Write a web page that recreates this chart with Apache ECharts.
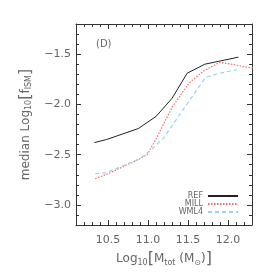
<!DOCTYPE html>
<html><head><meta charset="utf-8">
<script src="https://cdn.jsdelivr.net/npm/echarts@6/dist/echarts.min.js"></script>
<style>html,body{margin:0;padding:0;background:#fff}#c{width:274px;height:274px}</style>
</head><body><div id="c"></div>
<script>
// Data
const refX  = [10.33, 10.48, 10.88, 11.10, 11.30, 11.49, 11.71, 12.13];
const refY  = [-2.38, -2.35, -2.24, -2.12, -1.94, -1.69, -1.60, -1.53];
const millX = [10.34, 10.53, 10.90, 10.99, 11.11, 11.30, 11.51, 11.70, 11.90, 12.35];
const millY = [-2.74, -2.68, -2.54, -2.50, -2.33, -2.03, -1.79, -1.665, -1.58, -1.645];
const wmlX  = [10.34, 10.48, 10.90, 11.03, 11.20, 11.32, 11.72, 11.90, 12.11];
const wmlY  = [-2.69, -2.68, -2.54, -2.46, -2.33, -2.19, -1.73, -1.69, -1.655];
const xMajor = [10.5, 11.0, 11.5, 12.0];
const xMinor = [10.1,10.2,10.3,10.4,10.5,10.6,10.7,10.8,10.9,11.0,11.1,11.2,11.3,11.4,11.5,11.6,11.7,11.8,11.9,12.0,12.1,12.2,12.3];
const yMajor = [-3.0, -2.5, -2.0, -1.5];
const yMinor = [-3.2,-3.1,-3.0,-2.9,-2.8,-2.7,-2.6,-2.5,-2.4,-2.3,-2.2,-2.1,-2.0,-1.9,-1.8,-1.7,-1.6,-1.5,-1.4,-1.3,-1.2];
const names = ['REF', 'MILL', 'WML4'];

const pairs = (xs, ys) => xs.map((x, i) => [x, ys[i]]);
const axisCol = '#333';
const txtCol = '#666';
const font = 'DejaVu Sans';
const fmt = v => (v < 0 ? '\u2212' : '') + Math.abs(v).toFixed(1);

function xAx(pos, major, showLabel, showLine, name) {
  return {
    type: 'value', position: pos, min: 10.1, max: 12.3,
    axisLine: { show: showLine, onZero: false, lineStyle: { color: axisCol, width: 1 } },
    axisTick: { show: true, inside: true, length: major ? 5 : 3, customValues: major ? xMajor : xMinor, lineStyle: { color: axisCol } },
    axisLabel: { show: showLabel, customValues: xMajor, formatter: fmt, color: txtCol, fontFamily: font, fontSize: 11, margin: 10 },
    splitLine: { show: false },
    name: name || '', nameLocation: 'middle', nameGap: 24,
    nameTextStyle: {
      color: txtCol, fontFamily: font, fontSize: 12,
      rich: {
        s: { fontSize: 8, verticalAlign: 'bottom', padding: [8, 0, 0, 0], color: txtCol, fontFamily: font },
        b: { fontSize: 16, color: txtCol, fontFamily: font }
      }
    }
  };
}
function yAx(pos, major, showLabel, showLine, name) {
  return {
    type: 'value', position: pos, min: -3.2, max: -1.2,
    axisLine: { show: showLine, onZero: false, lineStyle: { color: axisCol, width: 1 } },
    axisTick: { show: true, inside: true, length: major ? 5 : 3, customValues: major ? yMajor : yMinor, lineStyle: { color: axisCol } },
    axisLabel: { show: showLabel, customValues: yMajor, formatter: fmt, color: txtCol, fontFamily: font, fontSize: 11, margin: 5 },
    splitLine: { show: false },
    name: name || '', nameLocation: 'middle', nameGap: 42,
    nameTextStyle: {
      color: txtCol, fontFamily: font, fontSize: 12,
      rich: {
        s: { fontSize: 8, verticalAlign: 'bottom', padding: [8, 0, 0, 0], color: txtCol, fontFamily: font },
        b: { fontSize: 16, color: txtCol, fontFamily: font }
      }
    }
  };
}

const chart = echarts.init(document.getElementById('c'), null, { renderer: 'canvas' });
chart.setOption({
  animation: false,
  backgroundColor: '#fff',
  grid: { left: 76, top: 24, right: 22, bottom: 49, containLabel: false, outerBoundsMode: 'none' },
  title: { text: '(D)', left: 91, top: 34, textStyle: { color: txtCol, fontFamily: font, fontSize: 10, fontWeight: 'normal' } },
  xAxis: [
    xAx('bottom', false, true, true, 'Log{s|10}{b|[}M{s|tot} (M{s|\u2299}){b|]}'),
    xAx('bottom', true, false, false),
    xAx('top', false, false, true),
    xAx('top', true, false, false)
  ],
  yAxis: [
    yAx('left', false, true, true, 'median Log{s|10}{b|[}f{s|ISM}{b|]}'),
    yAx('left', true, false, false),
    yAx('right', false, false, true),
    yAx('right', true, false, false)
  ],
  legend: {
    orient: 'vertical', align: 'right', right: 30, top: 187,
    itemWidth: 30, itemHeight: 8, itemGap: 0,
    itemStyle: { opacity: 0 },
    data: names,
    textStyle: { color: txtCol, fontFamily: font, fontSize: 8, lineHeight: 8 }
  },
  series: [
    { name: names[0], type: 'line', data: pairs(refX, refY), symbol: 'none', showSymbol: false, clip: true,
      lineStyle: { color: '#222', width: 1, type: 'solid' }, itemStyle: { color: '#222' } },
    { name: names[1], type: 'line', data: pairs(millX, millY), symbol: 'none', showSymbol: false, clip: true,
      lineStyle: { color: '#ff6666', width: 1.2, type: [1.5, 1.5] }, itemStyle: { color: '#ff6666' } },
    { name: names[2], type: 'line', data: pairs(wmlX, wmlY), symbol: 'none', showSymbol: false, clip: true,
      lineStyle: { color: '#99d3f0', width: 1.2, type: [4, 3] }, itemStyle: { color: '#99d3f0' } }
  ]
});
</script></body></html>
